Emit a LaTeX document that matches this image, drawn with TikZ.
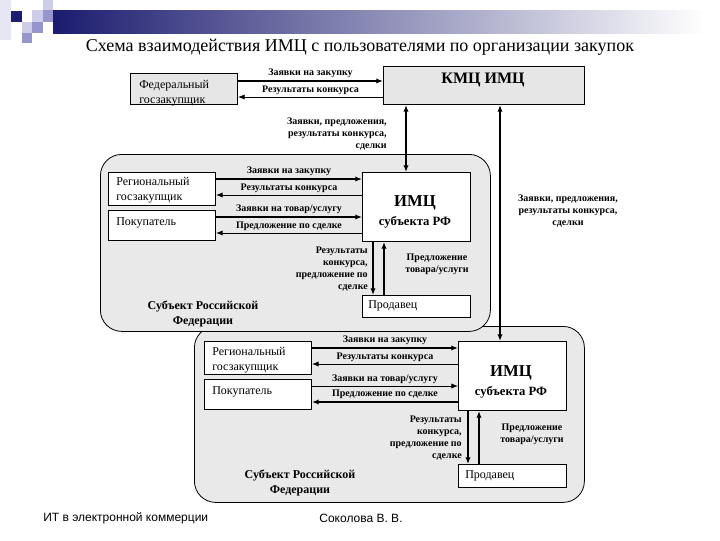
\documentclass[tikz,border=0pt]{standalone}
\usepackage{fontspec}
\setmainfont{Liberation Serif}
\newfontfamily\footfont{Liberation Sans}
\usetikzlibrary{arrows.meta}
\definecolor{navyblue}{RGB}{28,28,112}
\definecolor{lavlight}{RGB}{205,205,232}
\definecolor{lavmid}{RGB}{150,150,204}
\definecolor{areagray}{RGB}{233,233,233}
\definecolor{boxgray}{RGB}{230,230,230}

\begin{document}
\begin{tikzpicture}[x=0.75pt, y=-0.75pt,
    box/.style={rectangle, draw, fill=white, anchor=north west, inner sep=0pt, line width=0.75pt},
    gbox/.style={box, fill=boxgray},
    area/.style={rectangle, draw, fill=areagray, anchor=north west, rounded corners=16pt, line width=0.6pt},
    txt/.style={inner sep=0pt, anchor=west, align=left, font=\fontsize{9}{11}\selectfont},
    lbl/.style={inner sep=0pt, font=\bfseries\fontsize{7.5}{9.2}\selectfont},
    head/.style={inner sep=0pt, font=\bfseries\fontsize{12.5}{14}\selectfont},
    subhead/.style={inner sep=0pt, font=\bfseries\fontsize{9.5}{11}\selectfont},
    arrow/.style={-{Latex[length=5pt,width=4pt]}, line width=0.75pt},
    thickarrow/.style={arrow, line width=1.8pt},
    uparrow/.style={arrow, line width=1.5pt},
    both/.style={{Latex[length=5pt,width=4pt]}-{Latex[length=5pt,width=4pt]}, line width=1.5pt}]

    % canvas and header band
    \fill[white] (0,0) rectangle (720,540);
    \useasboundingbox (0,0) rectangle (720,540);
    \shade[left color=navyblue, right color=white] (53,10) rectangle (705,33);
    \fill[lavlight!50] (0,0) rectangle (11,40);
    \fill[navyblue] (11,11) rectangle (22,22);
    \fill[lavlight] (43,0) rectangle (53,10);
    \fill[lavlight] (32,10) rectangle (43,22);
    \fill[lavmid] (43,10) rectangle (53,22);
    \fill[lavlight] (22,22) rectangle (32,33);
    \fill[lavmid] (32,22) rectangle (43,33);
    \fill[lavmid] (22,33) rectangle (32,43);

    \node[inner sep=0pt, font=\fontsize{13.5}{16}\selectfont] (title) at (360,47)
        {Схема взаимодействия ИМЦ с пользователями по организации закупок};

    % federal level
    \node[gbox, minimum width=80.25pt, minimum height=23.25pt] (fed) at (130,73) {};
    \node[txt] (fedtext) at (139,93) {Федеральный\\госзакупщик};
    \node[gbox, minimum width=150.75pt, minimum height=28.5pt] (kmc) at (383,66) {};
    \node[head, font=\bfseries\fontsize{12}{14}\selectfont] (kmctext) at (483,80) {КМЦ ИМЦ};

    % two regions
    \node[area, minimum width=292.5pt, minimum height=132pt] (rf2) at (194,326) {};
    \node[area, minimum width=292.5pt, minimum height=132.75pt] (rf1) at (100,154) {};

    % upper region
    \node[box, minimum width=80.25pt, minimum height=24.75pt] (reg1) at (108,172) {};
    \node[box, minimum width=80.25pt, minimum height=22.5pt] (pok1) at (108,210) {};
    \node[box, minimum width=81pt, minimum height=51.75pt] (imc1) at (362,172) {};
    \node[box, minimum width=81pt, minimum height=16.5pt] (prod1) at (362,295) {};
    \node[txt] (reg1text) at (116,190.5) {Региональный\\госзакупщик};
    \node[txt] (pok1text) at (116,223) {Покупатель};
    \node[head] (imc1title) at (415,203) {ИМЦ};
    \node[subhead] (imc1sub) at (415,222) {субъекта РФ};
    \node[txt] (prod1text) at (368,306) {Продавец};
    \node[lbl, align=center, font=\bfseries\fontsize{9}{11.25}\selectfont] (rf1lbl) at (203,314) {Субъект Российской\\Федерации};

    % lower region
    \node[box, minimum width=80.25pt, minimum height=24.75pt] (reg2) at (204,341) {};
    \node[box, minimum width=80.25pt, minimum height=22.5pt] (pok2) at (204,379) {};
    \node[box, minimum width=81pt, minimum height=51.75pt] (imc2) at (458,341) {};
    \node[box, minimum width=81pt, minimum height=17.25pt] (prod2) at (458,464) {};
    \node[txt] (reg2text) at (212,360.5) {Региональный\\госзакупщик};
    \node[txt] (pok2text) at (212,392) {Покупатель};
    \node[head] (imc2title) at (511,373) {ИМЦ};
    \node[subhead] (imc2sub) at (511,392) {субъекта РФ};
    \node[txt] (prod2text) at (465,476) {Продавец};
    \node[lbl, align=center, font=\bfseries\fontsize{9}{11.25}\selectfont] (rf2lbl) at (300,483) {Субъект Российской\\Федерации};

    % federal arrows
    \draw[thickarrow] (fed.east |- 0,81) -- node[lbl, above=1.5pt]{Заявки на закупку} (kmc.west |- 0,81);
    \draw[arrow] (kmc.west |- 0,97) -- node[lbl, above=1.5pt]{Результаты конкурса} (fed.east |- 0,97);
    \draw[both] (kmc.south -| 406,0) -- (imc1.north -| 406,0);
    \draw[both] (kmc.south -| 500,0) -- (imc2.north -| 500,0);
    \node[lbl, align=right, anchor=east] (kmc1lbl) at (387,134) {Заявки, предложения,\\результаты конкурса,\\сделки};
    \node[lbl, align=center] (kmc2lbl) at (568,211) {Заявки, предложения,\\результаты конкурса,\\сделки};

    % upper region arrows
    \draw[thickarrow] (reg1.east |- 0,179) -- node[lbl, above=1.5pt]{Заявки на закупку} (imc1.west |- 0,179);
    \draw[arrow] (imc1.west |- 0,195) -- node[lbl, above=1.5pt]{Результаты конкурса} (reg1.east |- 0,195);
    \draw[thickarrow, line width=1.3pt] (pok1.east |- 0,217) -- node[lbl, above=1.5pt]{Заявки на товар/услугу} (imc1.west |- 0,217);
    \draw[arrow] (imc1.west |- 0,233) -- node[lbl, above=1.5pt]{Предложение по сделке} (pok1.east |- 0,233);
    \draw[uparrow] (imc1.south -| 373,0) -- (prod1.north -| 373,0);
    \draw[uparrow] (prod1.north -| 384,0) -- (imc1.south -| 384,0);
    \node[lbl, align=right, anchor=east] (res1lbl) at (368,269) {Результаты\\конкурса,\\предложение по\\сделке};
    \node[lbl, align=center] (offer1lbl) at (437,264) {Предложение\\товара/услуги};

    % lower region arrows
    \draw[thickarrow] (reg2.east |- 0,348) -- node[lbl, above=1.5pt]{Заявки на закупку} (imc2.west |- 0,348);
    \draw[arrow] (imc2.west |- 0,364) -- node[lbl, above=1.5pt]{Результаты конкурса} (reg2.east |- 0,364);
    \draw[arrow] (pok2.east |- 0,386) -- node[lbl, above=1.5pt]{Заявки на товар/услугу} (imc2.west |- 0,386);
    \draw[thickarrow] (imc2.west |- 0,402) -- node[lbl, above=1.5pt]{Предложение по сделке} (pok2.east |- 0,402);
    \draw[uparrow] (imc2.south -| 468,0) -- (prod2.north -| 468,0);
    \draw[uparrow] (prod2.north -| 479,0) -- (imc2.south -| 479,0);
    \node[lbl, align=right, anchor=east] (res2lbl) at (462,438) {Результаты\\конкурса,\\предложение по\\сделке};
    \node[lbl, align=center] (offer2lbl) at (532,434) {Предложение\\товара/услуги};

    % footer
    \node[inner sep=0pt, anchor=west, font=\footfont\fontsize{9}{11}\selectfont] (course) at (43,518) {ИТ в электронной коммерции};
    \node[inner sep=0pt, font=\footfont\fontsize{9}{11}\selectfont] (author) at (361,518) {Соколова В. В.};
\end{tikzpicture}
\end{document}
